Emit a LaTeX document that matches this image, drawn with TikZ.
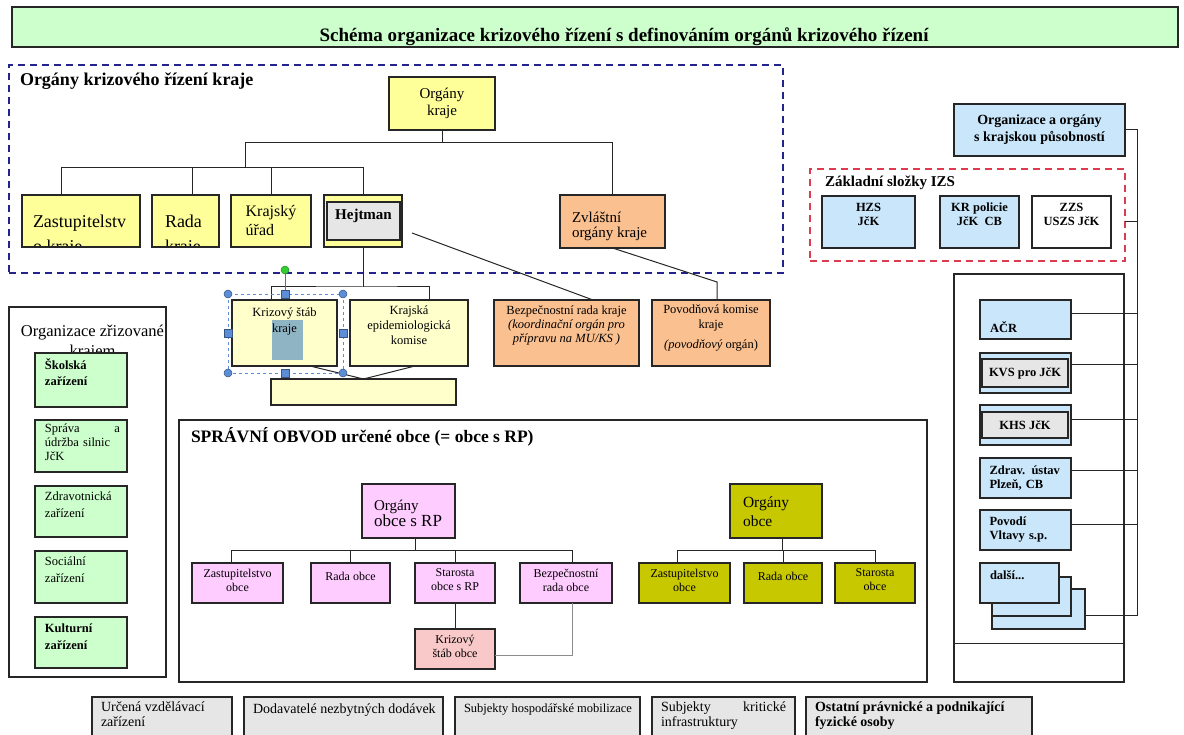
\documentclass[tikz,border=0pt]{standalone}
\usepackage{fontspec}
\setmainfont{Liberation Serif}

\definecolor{zelena}{HTML}{CCFFCC}
\definecolor{zluta}{HTML}{FFFF99}
\definecolor{svzluta}{HTML}{FFFFCC}
\definecolor{oranz}{HTML}{FAC090}
\definecolor{modra}{HTML}{C9E6FA}
\definecolor{ruzova}{HTML}{FFCCFF}
\definecolor{cervena}{HTML}{F9C9C9}
\definecolor{olivova}{HTML}{C8C800}
\definecolor{seda}{HTML}{E6E6E6}
\definecolor{ramecmodry}{HTML}{23238C}
\definecolor{ramecerveny}{HTML}{DC3C50}
\definecolor{vyber}{HTML}{5B8ED6}
\definecolor{vybertext}{HTML}{8FB5C5}
\definecolor{zelenybod}{HTML}{33CC33}

\newcommand{\vel}[2]{\fontsize{#1}{#2}\selectfont}

\tikzset{
	box/.style={draw=black!85, line width=1.1pt, anchor=north west, inner sep=3pt, outer sep=0pt, align=center, font=\vel{12.5}{14}},
	okraj/.style={draw=black!85, line width=1.1pt},
	ramec/.style={line width=1.3pt, dash pattern=on 7pt off 5pt, anchor=north west, inner sep=0pt, outer sep=0pt},
	popis/.style={inner sep=0pt, outer sep=0pt, align=left, draw=none, fill=none, font=\vel{12.5}{14}},
	spoj/.style={line width=1pt, draw=black!85},
	sedaspoj/.style={line width=0.8pt, draw=black!45},
	uchop/.style={fill=vyber, draw=vyber!60!black, line width=0.5pt},
}

\begin{document}
\begin{tikzpicture}[x=1pt,y=-1pt]
	\useasboundingbox (0,0) rectangle (1184,735);
	\fill[white] (0,0) rectangle (1184,735);

	% nadpis
		\node[box, fill=zelena, minimum width=1166pt, minimum height=40pt,
			label={[popis, anchor=base, font=\bfseries\vel{19}{22}, xshift=29pt, yshift=5pt]south:{Schéma organizace krizového řízení s definováním orgánů krizového řízení}}] (titul) at (12,7) {};

	% orgány kraje
		\node[ramec, draw=ramecmodry, minimum width=774pt, minimum height=208pt,
			label={[popis, anchor=north west, font=\bfseries\vel{18}{20}, xshift=11pt, yshift=-8pt]north west:{Orgány krizového řízení kraje}}] (krajRamec) at (9,65) {};
		\node[box, fill=zluta, minimum width=106pt, minimum height=53pt, font=\vel{15}{17}] (orgKraje) at (389,77) {Orgány\\kraje};
		\node[box, fill=zluta, minimum width=118pt, minimum height=52pt] (zastKraje) at (22,195) {};
		\node[box, fill=zluta, minimum width=67pt, minimum height=52pt] (radaKraje) at (152,195) {};
		\begin{scope}
			\clip (zastKraje.north west) rectangle (zastKraje.south east);
			\node[popis, anchor=north west, font=\vel{18}{25}] (zastKrajeText) at ([xshift=11pt,yshift=-20pt]zastKraje.north west) {Zastupitelstv\\o kraje};
		\end{scope}
		\begin{scope}
			\clip (radaKraje.north west) rectangle (radaKraje.south east);
			\node[popis, anchor=north west, font=\vel{18}{25}] (radaKrajeText) at ([xshift=13pt,yshift=-20pt]radaKraje.north west) {Rada\\kraje};
		\end{scope}
		\draw[okraj] (zastKraje.north west) rectangle (zastKraje.south east);
		\draw[okraj] (radaKraje.north west) rectangle (radaKraje.south east);
		\node[box, fill=zluta, minimum width=80pt, minimum height=52pt, font=\vel{16}{19}, align=left] (krajUrad) at (231,195) {Krajský\\úřad};
		\node[box, fill=zluta, minimum width=78pt, minimum height=52pt] (hejtman) at (324,195) {};
		\node[box, fill=seda, minimum width=73pt, minimum height=38pt,
			label={[popis, anchor=north, font=\bfseries\vel{15}{17}, yshift=-7pt]north:Hejtman}] (hejtmanIn) at (327,202) {};
		\node[box, fill=oranz, minimum width=105pt, minimum height=53pt,
			label={[popis, anchor=south west, font=\vel{15}{15}, xshift=12pt, yshift=7pt]south west:{Zvláštní\\orgány kraje}}] (zvlastni) at (560,195) {};

		\coordinate (vetevKraj) at (245,143);
		\draw[spoj] (orgKraje.south) -- (orgKraje.south |- vetevKraj);
		\draw[spoj] (vetevKraj) -| (zvlastni.north);
		\draw[spoj] (vetevKraj) -- ++(0,25);
		\draw[spoj] ([xshift=-20pt]zastKraje.north) -- ++(0,-27) -| (hejtman.north);
		\draw[spoj] ([xshift=6.5pt]radaKraje.north) -- ++(0,-27);
		\draw[spoj] (krajUrad.north) -- ++(0,-27);

	% pod hejtmanem
		\node[box, fill=svzluta, minimum width=105pt, minimum height=66pt,
			path picture={\fill[vybertext] ([xshift=40pt,yshift=-20pt]path picture bounding box.north west) rectangle ([xshift=71pt,yshift=-60pt]path picture bounding box.north west);},
			label={[popis, anchor=north, align=center, font=\vel{12.5}{16}, yshift=-8pt]north:{Krizový štáb\\kraje}}] (krizStab) at (232,300) {};
		\node[box, fill=svzluta, minimum width=118pt, minimum height=66pt,
			label={[popis, anchor=north, align=center, font=\vel{12.5}{15}, yshift=-6pt]north:{Krajská\\epidemiologická\\komise}}] (epid) at (350,300) {};
		\node[box, fill=svzluta, minimum width=185pt, minimum height=26pt] (stabDole) at (271,379) {};
		\node[box, fill=oranz, minimum width=145pt, minimum height=66pt,
			label={[popis, anchor=north, align=center, yshift=-6pt]north:{Bezpečnostní rada kraje\\\textit{(koordinační orgán pro}\\\textit{přípravu na MU/KS )}}}] (bezpKraje) at (494,300) {};
		\node[box, fill=oranz, minimum width=118pt, minimum height=66pt,
			label={[popis, anchor=north, align=center, font=\vel{12.5}{15}, yshift=-5pt]north:{Povodňová komise\\kraje\\[5pt]\textit{(povodňový} orgán)}}] (povodKraje) at (652,300) {};

		\draw[spoj] (hejtman.south) -- ++(0,40) coordinate (hejtUzel);
		\draw[spoj] ([xshift=-13.5pt]krizStab.north) |- (hejtUzel) -| ([xshift=20pt]epid.north);
		\draw[spoj] ([xshift=25.5pt]krizStab.south) -- (stabDole.north);
		\draw[spoj] ([xshift=6pt]epid.south) -- (stabDole.north);
		\draw[spoj] ([xshift=10pt,yshift=-12pt]hejtman.east) -- ([xshift=26.5pt]bezpKraje.north);
		\draw[spoj] (zvlastni.south) -- ([xshift=6pt,yshift=18pt]povodKraje.north) -- ([xshift=6pt]povodKraje.north);

		% oznaceni krizoveho stabu
		\draw[vyber, dashed, line width=0.6pt] (228,294) rectangle (343,373);
		\draw[vyber!80!black, line width=0.8pt] (285,274) -- (285,294);
		\filldraw[fill=zelenybod, draw=zelenybod!70!black, line width=0.5pt] (285,270) circle (4pt);
		\foreach \x/\y in {228/294, 343/294, 228/373, 343/373}
			\filldraw[uchop] (\x,\y) circle (4pt);
		\foreach \x/\y in {285/294, 228/333, 343/333, 285/373}
			\filldraw[uchop] (\x-4,\y-4) rectangle (\x+4,\y+4);

	% krajská působnost
		\node[box, fill=modra, minimum width=171pt, minimum height=52pt, font=\bfseries\vel{14}{17}] (orgKrajPus) at (954,104) {Organizace a orgány\\s krajskou působností};
		\node[ramec, draw=ramecerveny, minimum width=315pt, minimum height=92pt,
			label={[popis, anchor=north west, font=\bfseries\vel{15}{17}, xshift=15pt, yshift=-7pt]north west:{Základní složky IZS}}] (izsRamec) at (810,169) {};
		\node[box, fill=modra, minimum width=93pt, minimum height=52pt,
			label={[popis, anchor=north, align=center, font=\bfseries\vel{12.5}{14}, yshift=-7pt]north:{HZS\\JčK}}] (hzs) at (822,196) {};
		\node[box, fill=modra, minimum width=79pt, minimum height=52pt,
			label={[popis, anchor=north, align=center, font=\bfseries\vel{12.5}{14}, yshift=-7pt]north:{KR policie\\JčK\ \ CB}}] (krPolicie) at (940,196) {};
		\node[box, fill=white, minimum width=79pt, minimum height=52pt,
			label={[popis, anchor=north, align=center, font=\bfseries\vel{12.5}{14}, yshift=-7pt]north:{ZZS\\USZS JčK}}] (zzs) at (1032,196) {};

		\node[box, minimum width=170pt, minimum height=408pt] (velkyRamec) at (954,274) {};
		\draw[spoj] ([yshift=39pt]velkyRamec.south west) -- ([yshift=39pt]velkyRamec.south east);

		\node[box, fill=modra, minimum width=91pt, minimum height=39pt,
			label={[popis, anchor=south west, font=\bfseries\vel{12.5}{14}, xshift=10pt, yshift=6pt]south west:AČR}] (acr) at (980,300) {};
		\node[box, fill=modra, minimum width=91pt, minimum height=40pt] (kvs) at (980,353) {};
		\node[box, fill=seda, minimum width=86pt, minimum height=28pt, font=\bfseries\vel{12.5}{14}] (kvsIn) at (982,359) {KVS pro JčK};
		\node[box, fill=modra, minimum width=91pt, minimum height=40pt] (khs) at (980,405) {};
		\node[box, fill=seda, minimum width=86pt, minimum height=26pt, font=\bfseries\vel{12.5}{14}] (khsIn) at (982,412) {KHS JčK};
		\node[box, fill=modra, minimum width=91pt, minimum height=40pt, font=\bfseries\vel{12.5}{13.5}, align=left, text width=72pt] (zdrav) at (980,458) {Zdrav. ústav\\Plzeň, CB};
		\node[box, fill=modra, minimum width=91pt, minimum height=40pt, font=\bfseries\vel{12.5}{14}, align=left, text width=72pt] (povodi) at (980,510) {Povodí\\Vltavy s.p.};
		\node[box, fill=modra, minimum width=93pt, minimum height=40pt] (dalsi3) at (992,589) {};
		\node[box, fill=modra, minimum width=79pt, minimum height=39pt] (dalsi2) at (992,577) {};
		\node[box, fill=modra, minimum width=79pt, minimum height=40pt,
			label={[popis, anchor=north west, font=\bfseries\vel{12.5}{14}, xshift=10pt, yshift=-8pt]north west:{další...}}] (dalsi) at (980,563) {};

		\coordinate (osa) at (1137,129);
		\draw[spoj] (orgKrajPus.east) -- (orgKrajPus.east -| osa) |- ([yshift=-6pt]dalsi3.east);
		\draw[spoj] ([yshift=-7pt]izsRamec.east) -- +(12,0);
		\draw[spoj] ([yshift=6pt]acr.east) -- +(66,0);
		\draw[spoj] ([yshift=8pt]kvs.east) -- +(66,0);
		\draw[spoj] ([yshift=6pt]khs.east) -- +(66,0);
		\draw[spoj] ([yshift=8pt]zdrav.east) -- +(66,0);
		\draw[spoj] ([yshift=6pt]povodi.east) -- +(66,0);

	% organizace zrizovane krajem
		\node[box, minimum width=157pt, minimum height=370pt,
			label={[popis, anchor=north, align=center, font=\vel{16.5}{20}, xshift=5pt, yshift=-18pt]north:{Organizace zřizované\\krajem}}] (orgZriz) at (9,307) {};
		\node[box, fill=zelena, minimum width=92pt, minimum height=54pt,
			label={[popis, anchor=north west, font=\bfseries\vel{12.5}{16}, xshift=10pt, yshift=-6pt]north west:{Školská\\zařízení}}] (skolska) at (35,353) {};
		\node[box, fill=zelena, minimum width=92pt, minimum height=52pt,
			label={[popis, anchor=north west, text width=75pt, font=\vel{12.5}{14}, xshift=10pt, yshift=-4pt]north west:{Správa\hfill a\\údržba silnic\\JčK}}] (sprava) at (35,420) {};
		\node[box, fill=zelena, minimum width=92pt, minimum height=51pt,
			label={[popis, anchor=north west, font=\vel{12.5}{17}, xshift=10pt, yshift=-6pt]north west:{Zdravotnická\\zařízení}}] (zdravot) at (35,486) {};
		\node[box, fill=zelena, minimum width=92pt, minimum height=52pt,
			label={[popis, anchor=north west, font=\vel{12.5}{17}, xshift=10pt, yshift=-6pt]north west:{Sociální\\zařízení}}] (socialni) at (35,551) {};
		\node[box, fill=zelena, minimum width=92pt, minimum height=51pt,
			label={[popis, anchor=north west, font=\bfseries\vel{12.5}{17}, xshift=10pt, yshift=-7pt]north west:{Kulturní\\zařízení}}] (kulturni) at (35,617) {};

	% spravni obvod
		\node[box, minimum width=748pt, minimum height=262pt,
			label={[popis, anchor=north west, font=\bfseries\vel{17.5}{20}, xshift=12pt, yshift=-7pt]north west:{SPRÁVNÍ OBVOD určené obce (= obce s RP)}}] (spravObvod) at (179,420) {};

		\node[box, fill=ruzova, minimum width=93pt, minimum height=54pt,
			label={[popis, anchor=north west, xshift=12pt, yshift=-16pt]north west:{\vel{15}{19}Orgány\\\vel{17}{19}obce s RP}}] (orgRP) at (362,484) {};
		\node[box, fill=ruzova, minimum width=91pt, minimum height=40pt,
			label={[popis, anchor=north, align=center, font=\vel{12}{14}, yshift=-6pt]north:{Zastupitelstvo\\obce}}] (zastRP) at (192,563) {};
		\node[box, fill=ruzova, minimum width=79pt, minimum height=40pt,
			label={[popis, anchor=north, align=center, font=\vel{12}{14}, yshift=-9pt]north:{Rada obce}}] (radaRP) at (311,563) {};
		\node[box, fill=ruzova, minimum width=80pt, minimum height=40pt,
			label={[popis, anchor=north, align=center, font=\vel{12}{14}, yshift=-6pt]north:{Starosta\\obce s RP}}] (starostaRP) at (415,563) {};
		\node[box, fill=ruzova, minimum width=92pt, minimum height=40pt,
			label={[popis, anchor=north, align=center, font=\vel{12}{14}, yshift=-6pt]north:{Bezpečnostní\\rada obce}}] (bezpRP) at (520,563) {};
		\node[box, fill=cervena, minimum width=80pt, minimum height=40pt,
			label={[popis, anchor=north, align=center, font=\vel{12}{14}, yshift=-6pt]north:{Krizový\\štáb obce}}] (krizObce) at (415,629) {};

		\draw[spoj] ([xshift=7pt]orgRP.south) -- ++(0,12);
		\draw[spoj] ([xshift=-6.5pt]zastRP.north) -- ++(0,-13) -| ([xshift=6pt]bezpRP.north);
		\draw[spoj] (radaRP.north) -- ++(0,-13);
		\draw[spoj] (starostaRP.north) -- ++(0,-13);
		\draw[spoj] (starostaRP.south) -- (krizObce.north);
		\draw[sedaspoj] ([yshift=-6pt]krizObce.east) -| ([xshift=6pt]bezpRP.south);

		\node[box, fill=olivova, minimum width=92pt, minimum height=54pt,
			label={[popis, anchor=north west, font=\vel{15.5}{19}, xshift=13pt, yshift=-13pt]north west:{Orgány\\obce}}] (orgObce) at (730,484) {};
		\node[box, fill=olivova, minimum width=91pt, minimum height=40pt,
			label={[popis, anchor=north, align=center, font=\vel{12}{14}, yshift=-6pt]north:{Zastupitelstvo\\obce}}] (zastObce) at (639,563) {};
		\node[box, fill=olivova, minimum width=78pt, minimum height=40pt,
			label={[popis, anchor=north, align=center, font=\vel{12}{14}, yshift=-9pt]north:{Rada obce}}] (radaObce) at (744,563) {};
		\node[box, fill=olivova, minimum width=80pt, minimum height=40pt,
			label={[popis, anchor=north, align=center, font=\vel{12}{14}, yshift=-6pt]north:{Starosta\\obce}}] (starostaObce) at (835,563) {};

		\draw[spoj] ([xshift=6pt]orgObce.south) -- ++(0,12);
		\draw[spoj] ([xshift=-7.5pt]zastObce.north) -- ++(0,-13) -| (starostaObce.north);
		\draw[spoj] (radaObce.north) -- ++(0,-13);

	% dalsi subjekty dole
		\node[box, fill=seda, minimum width=140pt, minimum height=45pt,
			label={[popis, anchor=north west, font=\vel{14}{15}, xshift=9pt, yshift=-5pt]north west:{Určená vzdělávací\\zařízení}}] (skoly) at (92,697) {};
		\node[box, fill=seda, minimum width=199pt, minimum height=45pt,
			label={[popis, anchor=north west, font=\vel{14}{15}, xshift=9pt, yshift=-7pt]north west:{Dodavatelé nezbytných dodávek}}] (dodavatele) at (244,697) {};
		\node[box, fill=seda, minimum width=185pt, minimum height=45pt,
			label={[popis, anchor=north west, font=\vel{12.5}{15}, xshift=9pt, yshift=-7pt]north west:{Subjekty hospodářské mobilizace}}] (mobilizace) at (455,697) {};
		\node[box, fill=seda, minimum width=143pt, minimum height=45pt,
			label={[popis, anchor=north west, text width=125pt, font=\vel{14}{15}, xshift=9pt, yshift=-5pt]north west:{Subjekty\hfill kritické\\infrastruktury}}] (infra) at (652,697) {};
		\node[box, fill=seda, minimum width=226pt, minimum height=45pt,
			label={[popis, anchor=north west, font=\bfseries\vel{14}{15}, xshift=9pt, yshift=-5pt]north west:{Ostatní právnické a podnikající\\fyzické osoby}}] (ostatni) at (806,697) {};
\end{tikzpicture}
\end{document}
